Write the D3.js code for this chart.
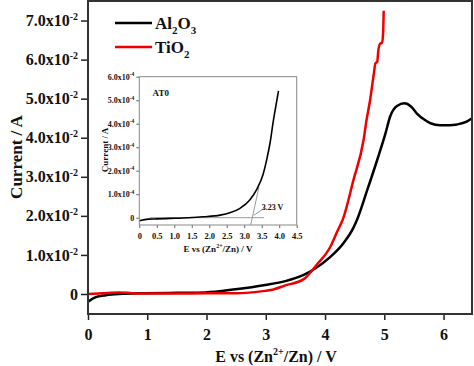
<!DOCTYPE html>
<html><head><meta charset="utf-8">
<script src="https://cdn.jsdelivr.net/npm/d3@7"></script>
<style>
body{margin:0;background:#fff}
svg text{font-family:"Liberation Serif","Times New Roman",serif;font-weight:bold;fill:#111}
</style>
</head><body>
<svg id="c" width="474" height="366"></svg>
<script>
// ---- data ----
const alE=[0,0.13,0.3,0.52,0.97,1.5,1.98,2.49,2.99,3.33,3.64,3.84,4.09,4.31,4.48,4.54,4.71,4.88,5.02,5.10,5.22,5.34,5.45,5.55,5.68,5.78,5.94,6.1,6.23,6.39,6.5];
const alI=[-0.0020,-0.0008,-0.0003,0,0.0002,0.0003,0.0004,0.0012,0.0023,0.0033,0.0049,0.0066,0.0095,0.0130,0.0170,0.0190,0.0265,0.0343,0.0411,0.0455,0.0482,0.0488,0.0480,0.0462,0.0446,0.0437,0.0432,0.0432,0.0434,0.0441,0.0452];
const tiE=[0,0.25,0.52,0.75,0.97,1.5,1.98,2.49,2.99,3.08,3.33,3.64,3.86,4.09,4.20,4.31,4.48,4.65,4.70,4.76,4.82,4.85,4.88,4.90,4.93,4.96,4.98,4.99];
const tiI=[0,0.0002,0.0004,0.0002,0.0001,0.0001,0.0002,0.0002,0.0008,0.0010,0.0022,0.0038,0.0075,0.0121,0.0158,0.0195,0.0292,0.0394,0.0445,0.0496,0.0560,0.0590,0.0594,0.0624,0.0641,0.0643,0.0667,0.0725];
const insE=[0,0.26,0.5,0.88,1.4,1.83,2.31,2.59,2.88,3.16,3.35,3.54,3.64,3.74,3.83,3.91,3.98];
const insI=[-1.3e-5,-0.6e-5,-0.5e-5,-0.3e-5,0,0.4e-5,1.1e-5,2.1e-5,4.0e-5,7.5e-5,1.18e-4,1.85e-4,2.45e-4,3.2e-4,4.1e-4,4.8e-4,5.4e-4];
const baseE=[0.3,3.57], baseI=[0.02e-5,0.02e-5];
const tanE=[3.186,3.42], tanI=[-0.3e-4,1.3e-4];
const annE=[3.27,3.57], annI=[0.1e-4,0.4e-4];
const mainXTicks=[0,1,2,3,4,5,6];
const mainYTicks=[0,0.01,0.02,0.03,0.04,0.05,0.06,0.07];
const insXTicks=[0,0.5,1.0,1.5,2.0,2.5,3.0,3.5,4.0,4.5];
const insYTicks=[0,1e-4,2e-4,3e-4,4e-4,5e-4,6e-4];

const svg=d3.select("#c");
// ---- main scales ----
const L=88,R=472,T=1,B=314;
const x=d3.scaleLinear().domain([0,6.48]).range([L,R]);
const y=d3.scaleLinear().domain([-0.00512,0.075]).range([B,T]);

svg.append("defs").append("clipPath").attr("id","clip")
  .append("rect").attr("x",L).attr("y",T).attr("width",R-L).attr("height",B-T);

function sciLabel(sel,exp,sfs,dy){
  sel.each(function(d){
    const t=d3.select(this); t.text(null);
    if(d===0){t.text("0");return;}
    const m=(d/Math.pow(10,exp)).toFixed(1);
    t.append("tspan").text(m+"x10");
    t.append("tspan").attr("font-size",sfs).attr("dy",-dy).text("-"+(-exp));
  });
}

const gx=svg.append("g").attr("transform",`translate(0,${B})`)
  .call(d3.axisBottom(x).tickValues(mainXTicks).tickFormat(d3.format("d")).tickSize(6).tickSizeOuter(0));
gx.selectAll("text").attr("font-size",16).attr("dy","1.05em");
const gy=svg.append("g").attr("transform",`translate(${L},0)`)
  .call(d3.axisLeft(y).tickValues(mainYTicks).tickSize(7).tickSizeOuter(0));
gy.selectAll("text").attr("font-size",16).attr("x",-10).call(sciLabel,-2,10,6);
svg.selectAll(".domain").remove();
svg.selectAll(".tick line").attr("stroke","#222").attr("stroke-width",1.5);

const line=d3.line().x(d=>x(d[0])).y(d=>y(d[1])).curve(d3.curveMonotoneX);
const g=svg.append("g").attr("clip-path","url(#clip)");
g.append("path").datum(alE.map((e,i)=>[e,alI[i]])).attr("d",line)
  .attr("fill","none").attr("stroke","#000").attr("stroke-width",2.5);
g.append("path").datum(tiE.map((e,i)=>[e,tiI[i]])).attr("d",line)
  .attr("fill","none").attr("stroke","#e00").attr("stroke-width",2.5).attr("stroke-linejoin","round");

svg.append("rect").attr("x",L).attr("y",T).attr("width",R-L).attr("height",B-T)
  .attr("fill","none").attr("stroke","#333").attr("stroke-width",2);

// axis titles
const xt=svg.append("text").attr("x",276).attr("y",362).attr("text-anchor","middle").attr("font-size",16);
xt.append("tspan").text("E vs (Zn");
xt.append("tspan").attr("font-size",10).attr("dy",-7).text("2+");
xt.append("tspan").attr("dy",7).text("/Zn) / V");
svg.append("text").attr("transform","translate(22,157) rotate(-90)").attr("text-anchor","middle")
  .attr("font-size",17).text("Current / A");

// legend
const leg=[{c:"#000",y:23,sub:["2","3"],base:["Al","O"]},{c:"#e00",y:47,sub:["2"],base:["TiO"]}];
leg.forEach(l=>{
  svg.append("line").attr("x1",115).attr("x2",152).attr("y1",l.y).attr("y2",l.y).attr("stroke",l.c).attr("stroke-width",2.5);
  const t=svg.append("text").attr("x",155).attr("y",l.y+6).attr("font-size",17);
  l.base.forEach((b,i)=>{
    t.append("tspan").attr("dy",i===0?0:-5).text(b);
    t.append("tspan").attr("font-size",11).attr("dy",5).text(l.sub[i]);
  });
});

// ---- inset ----
const iL=139.3,iR=296.7,iT=76.7,iB=225;
const ix=d3.scaleLinear().domain([0,4.5]).range([iL,iR]);
const iy=d3.scaleLinear().domain([-0.31e-4,6e-4]).range([iB,iT]);
svg.append("rect").attr("x",iL).attr("y",iT).attr("width",iR-iL).attr("height",iB-iT).attr("fill","#fff");
const ig=svg.append("g");
const igx=ig.append("g").attr("transform",`translate(0,${iB})`)
  .call(d3.axisBottom(ix).tickValues(insXTicks).tickFormat((d,i)=>i===0?"0":d3.format(".1f")(d)).tickSize(3).tickSizeOuter(0));
igx.selectAll("text").attr("font-size",8.5).attr("dy","0.9em");
const igy=ig.append("g").attr("transform",`translate(${iL},0)`)
  .call(d3.axisLeft(iy).tickValues(insYTicks).tickSize(3).tickSizeOuter(0));
igy.selectAll("text").attr("font-size",8).attr("x",-5).call(sciLabel,-4,5.5,3.5);
ig.selectAll(".domain").remove();
ig.selectAll(".tick line").attr("stroke","#666").attr("stroke-width",1);
const iline=d3.line().x(d=>ix(d[0])).y(d=>iy(d[1]));
ig.append("path").datum(baseE.map((e,i)=>[e,baseI[i]])).attr("d",iline).attr("stroke","#999").attr("stroke-width",1).attr("fill","none");
ig.append("path").datum(tanE.map((e,i)=>[e,tanI[i]])).attr("d",iline).attr("stroke","#999").attr("stroke-width",1).attr("fill","none");
ig.append("path").datum(annE.map((e,i)=>[e,annI[i]])).attr("d",iline).attr("stroke","#999").attr("stroke-width",1).attr("fill","none");
ig.append("path").datum(insE.map((e,i)=>[e,insI[i]])).attr("d",iline.curve(d3.curveMonotoneX))
  .attr("fill","none").attr("stroke","#000").attr("stroke-width",1.6);
ig.append("rect").attr("x",iL).attr("y",iT).attr("width",iR-iL).attr("height",iB-iT)
  .attr("fill","none").attr("stroke","#888").attr("stroke-width",1);
ig.append("text").attr("x",ix(0.38)).attr("y",iy(5.2e-4)).attr("font-size",9).text("AT0");
ig.append("text").attr("x",ix(3.5)).attr("y",iy(0.32e-4)).attr("font-size",8).text("3.23 V");
const ixt=ig.append("text").attr("x",218).attr("y",252).attr("text-anchor","middle").attr("font-size",9);
ixt.append("tspan").text("E vs (Zn");
ixt.append("tspan").attr("font-size",6).attr("dy",-4).text("2+");
ixt.append("tspan").attr("dy",4).text("/Zn) / V");
ig.append("text").attr("transform","translate(108,150) rotate(-90)").attr("text-anchor","middle")
  .attr("font-size",9).text("Current / A");
</script>
</body></html>
